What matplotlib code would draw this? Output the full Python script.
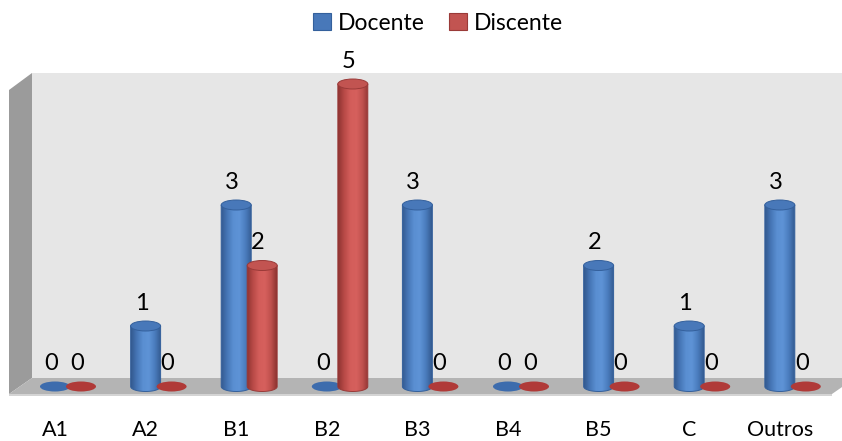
import numpy as np
import matplotlib
matplotlib.use("Agg")
import matplotlib.pyplot as plt
from matplotlib.patches import Polygon, Ellipse, Patch
from matplotlib.colors import LinearSegmentedColormap

# ---- data ----
categories = ["A1", "A2", "B1", "B2", "B3", "B4", "B5", "C", "Outros"]
docente = [0, 1, 3, 0, 3, 0, 2, 1, 3]
discente = [0, 0, 2, 5, 0, 0, 0, 0, 0]
series_names = ["Docente", "Discente"]

plt.rcParams['font.family'] = ['Lato', 'DejaVu Sans']

W, H = 842, 441
fig = plt.figure(figsize=(W / 100, H / 100), dpi=100)
ax = fig.add_axes([0, 0, 1, 1])

# pixel -> data helpers for the pseudo-3D frame
X0PX, XSTEP = 55.0, 90.6
Y0PX, YSTEP = 386.5, 60.5


def px(x):
    return (x - X0PX) / XSTEP


def py(y):
    return (Y0PX - y) / YSTEP


XLIM = (px(0), px(W))
YLIM = (py(H), py(0))

# ---- walls and floor ----
ax.add_patch(Polygon([(px(32), py(73)), (px(W + 2), py(73)),
                      (px(W + 2), py(378)), (px(32), py(378))],
                     closed=True, fc='#e6e6e6', ec='none', zorder=1))
ax.add_patch(Polygon([(px(9), py(90)), (px(32), py(73)),
                      (px(32), py(378)), (px(9), py(394))],
                     closed=True, fc='#9b9b9b', ec='none', zorder=1))
ax.add_patch(Polygon([(px(9), py(394)), (px(32), py(378)),
                      (px(855), py(378)), (px(832), py(394))],
                     closed=True, fc='#b4b4b4', ec='none', zorder=1))
ax.add_patch(Polygon([(px(9), py(394)), (px(832), py(394)),
                      (px(832), py(396)), (px(9), py(396))],
                     closed=True, fc='#d4d4d4', ec='none', zorder=1))

# ---- cylinders ----
BAR_W = 30 / XSTEP
ELL_H = 10 / YSTEP
OFFSETS = [0.0, 26 / XSTEP]

styles = [
    dict(cmap=LinearSegmentedColormap.from_list(
            'blue_cyl', ['#33598f', '#4676b6', '#5a8fd2', '#5e93d6', '#4a7cbd', '#335a90']),
         top='#4878b9', edge='#34609c', zero='#3d6cad'),
    dict(cmap=LinearSegmentedColormap.from_list(
            'red_cyl', ['#8e3331', '#b84a47', '#d35d5a', '#d6605d', '#bf504d', '#8c3230']),
         top='#c25451', edge='#9a3a38', zero='#b03a38'),
]

zc = 3


def cylinder(cx, v, st, z):
    x0, x1 = cx - BAR_W / 2, cx + BAR_W / 2
    if v == 0:
        ax.add_patch(Ellipse((cx, 0), BAR_W, ELL_H, fc=st['zero'], ec='none', zorder=z))
        return
    t = np.linspace(np.pi, 2 * np.pi, 60)
    bx = cx + BAR_W / 2 * np.cos(t)
    by = ELL_H / 2 * np.sin(t)
    verts = [(x0, v)] + list(zip(bx, by)) + [(x1, v)]
    body = Polygon(verts, closed=True, fc='none', ec=st['edge'], lw=0.7, zorder=z + 0.1)
    ax.add_patch(body)
    im = ax.imshow(np.linspace(0, 1, 256)[None, :], cmap=st['cmap'],
                   extent=(x0, x1, -ELL_H / 2, v), aspect='auto', origin='lower',
                   interpolation='bilinear', zorder=z)
    im.set_clip_path(body)
    ax.add_patch(Ellipse((cx, v), BAR_W, ELL_H, fc=st['top'], ec=st['edge'],
                         lw=0.7, zorder=z + 0.2))


for i in range(len(categories)):
    for s, vals in enumerate([docente, discente]):
        cx = i + OFFSETS[s]
        v = vals[i]
        cylinder(cx, v, styles[s], zc)
        ax.text(cx - 0.045, v + 0.38, str(v), ha='center', va='center',
                fontsize=17, color='black', zorder=20)
        zc += 1

# ---- category labels ----
for i, c in enumerate(categories):
    ax.text(i, py(430), c, ha='center', va='center', fontsize=15.5, color='black')

# ---- legend ----
handles = [Patch(fc=styles[0]['top'], ec=styles[0]['edge'], lw=0.8),
           Patch(fc=styles[1]['top'], ec=styles[1]['edge'], lw=0.8)]
fig.legend(handles, series_names, loc='upper center', bbox_to_anchor=(438 / W, 1.0),
           ncol=2, frameon=False, fontsize=16.5, handlelength=0.75, handleheight=0.75,
           handletextpad=0.3, columnspacing=1.1, borderaxespad=0.15)

ax.set_xlim(*XLIM)
ax.set_ylim(*YLIM)
ax.axis('off')

fig.savefig('out.png', dpi=100, facecolor='white')
